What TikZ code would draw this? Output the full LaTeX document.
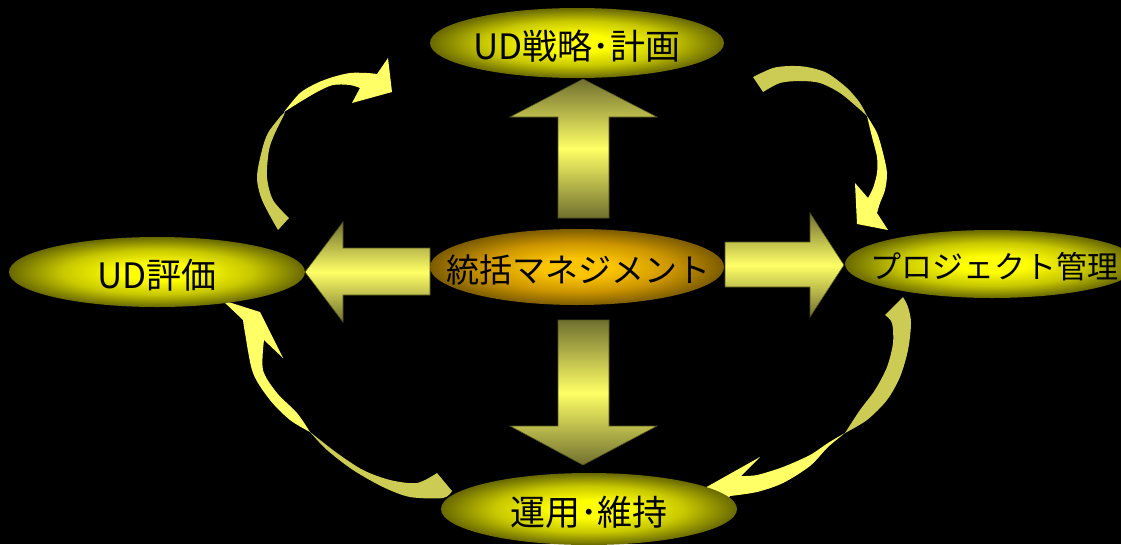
\documentclass[tikz,border=0pt]{standalone}
\usepackage{fontspec}
\newfontfamily\jp{Noto Sans CJK JP}
\usetikzlibrary{shapes.geometric}
\definecolor{yin}{RGB}{255,255,0}
\definecolor{ymid}{RGB}{200,200,0}
\definecolor{yout}{RGB}{105,105,0}
\definecolor{gin}{RGB}{250,196,0}
\definecolor{gmid}{RGB}{205,150,0}
\definecolor{gout}{RGB}{125,92,0}
\definecolor{olv}{RGB}{112,112,48}
\definecolor{ybright}{RGB}{255,255,102}
\definecolor{cdark}{RGB}{204,204,85}
\definecolor{cbright}{RGB}{255,255,102}
\definecolor{edgeol}{RGB}{80,80,30}
\pgfdeclareradialshading{yball}{\pgfpoint{0bp}{0bp}}{color(0bp)=(yin); color(6bp)=(yin); color(16bp)=(ymid); color(25bp)=(yout); color(50bp)=(yout)}
\pgfdeclareradialshading{gball}{\pgfpoint{0bp}{0bp}}{color(0bp)=(gin); color(6bp)=(gin); color(16bp)=(gmid); color(25bp)=(gout); color(50bp)=(gout)}
\tikzset{
  ell/.style={ellipse, shade, inner sep=0pt, outer sep=0pt},
  lbl/.style={inner sep=0pt, text=black, font=\jp\fontsize{35}{35}\selectfont},
  blockarrow/.style={top color=olv, bottom color=olv, middle color=ybright, draw=edgeol, line width=0.6pt},
  curvedark/.style={fill=cdark},
  curvebright/.style={fill=cbright},
}
\begin{document}
\begin{tikzpicture}[x=1pt,y=-1pt]
\useasboundingbox (0,0) rectangle (1121,544);
\fill[black] (0,0) rectangle (1121,544);
\clip (0,0) rectangle (1121,544);

% curved arrows: top-left
\path[curvedark] plot[smooth] coordinates {(278,230) (262,200) (257,177) (262,150) (268,133) (280,117) (285,112)}
  -- plot[smooth] coordinates {(285,112) (283,117) (275,133) (269,150) (267,177) (273,200) (289,218)} -- cycle;
\path[curvebright] plot[smooth] coordinates {(284,112) (300,93) (317,83) (333,77) (350,73) (367,73) (377,74)}
  -- (388,58) -- (392,92) -- (352,103)
  -- plot[smooth] coordinates {(360,88) (350,85) (333,85) (317,92) (300,102) (284,112)} -- cycle;

% top-right
\path[curvedark] plot[smooth] coordinates {(753,77) (773,68) (790,66) (807,67) (827,73) (847,88) (860,103) (867,116)}
  -- plot[smooth] coordinates {(867,116) (857,107) (840,93) (820,83) (800,81) (780,83) (763,92)} -- cycle;
\path[curvebright] plot[smooth] coordinates {(867,116) (877,133) (883,153) (887,173) (885,190) (880,203) (877,213)}
  -- (888,230) -- (857,224) -- (855,183)
  -- plot[smooth] coordinates {(868,198) (873,188) (877,173) (877,157) (872,137) (867,116)} -- cycle;

% bottom-right
\path[curvedark] plot[smooth] coordinates {(903,297) (908,307) (911,323) (908,350) (900,377) (887,400) (867,420) (845,433)}
  -- plot[smooth] coordinates {(845,433) (860,410) (875,390) (887,367) (893,343) (892,323) (885,315)} -- cycle;
\path[curvebright] plot[smooth] coordinates {(845,433) (828,447) (810,466) (783,483) (757,492) (730,496)}
  -- (722,508) -- (703,489) -- (760,457)
  -- plot[smooth] coordinates {(741,476) (757,475) (783,467) (810,455) (828,443) (845,433)} -- cycle;

% bottom-left
\path[curvebright] (222,300) -- (260,312) -- (283,358)
  -- plot[smooth] coordinates {(264,340) (263,370) (277,393) (297,413) (310,432)}
  -- plot[smooth] coordinates {(310,432) (290,420) (270,400) (253,373) (245,333) (243,320)} -- cycle;
\path[curvedark] plot[smooth] coordinates {(310,432) (327,450) (353,470) (383,487) (410,497) (443,498) (452,491)}
  -- (437,473)
  -- plot[smooth] coordinates {(437,473) (417,483) (390,480) (363,470) (337,453) (310,432)} -- cycle;

% block arrows
\path[blockarrow] (583,79) -- (657,117) -- (609,117) -- (609,218) -- (558,218) -- (558,117) -- (510,117) -- cycle;
\path[blockarrow] (583,465) -- (657,426) -- (609,426) -- (609,320) -- (558,320) -- (558,426) -- (510,426) -- cycle;
\path[blockarrow] (305,272) -- (343,222) -- (343,248) -- (430,248) -- (430,295) -- (343,295) -- (343,322) -- cycle;
\path[blockarrow] (844,265) -- (810,213) -- (810,242) -- (725,242) -- (725,287) -- (810,287) -- (810,317) -- cycle;

% ellipses
\node[ell, shading=yball, minimum width=294pt, minimum height=70pt] (planbg) at (577,43) {};
\node[ell, shading=yball, minimum width=296pt, minimum height=70pt] (evalbg) at (157,272) {};
\node[ell, shading=gball, minimum width=294pt, minimum height=76pt] (mgmtbg) at (577,267) {};
\node[ell, shading=yball, minimum width=294pt, minimum height=68pt] (projbg) at (992,264) {};
\node[ell, shading=yball, minimum width=296pt, minimum height=72pt] (opsbg) at (589,509) {};

\node[lbl] (plan) at (577,46) {UD戦略･計画};
\node[lbl] (eval) at (157,275) {UD評価};
\node[lbl, font=\jp\fontsize{33}{33}\selectfont] (mgmt) at (578,270) {統括マネジメント};
\node[lbl, font=\jp\fontsize{31}{31}\selectfont] (proj) at (994,267) {プロジェクト管理};
\node[lbl] (ops) at (589,512) {運用･維持};
\end{tikzpicture}
\end{document}
